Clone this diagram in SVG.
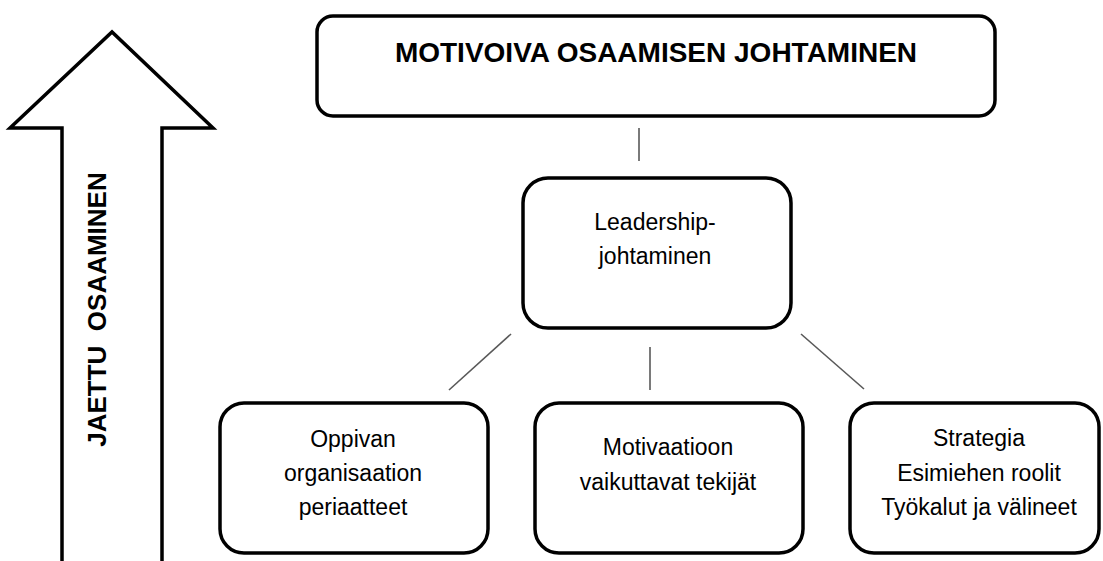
<svg xmlns="http://www.w3.org/2000/svg" width="1103" height="561" viewBox="0 0 1103 561">
<style>
.box{fill:#fff;stroke:#000;stroke-width:3.5}
.conn{stroke:#595959;stroke-width:1.6;fill:none}
.t{font-family:"Liberation Sans",Arial,sans-serif;font-size:23px;fill:#000;text-anchor:middle}
.tb{font-family:"Liberation Sans",Arial,sans-serif;font-weight:bold;fill:#000;text-anchor:middle}
</style>
<rect width="1103" height="561" fill="#fff"/>
<g id="arrow">
<path d="M62,565 L62,128 L10,128 L112,32 L213,128 L162,128 L162,565" fill="#fff" stroke="#000" stroke-width="3.5" stroke-linejoin="miter"/>
<text class="tb" font-size="26" transform="translate(106,309.5) rotate(-90)" xml:space="preserve">JAETTU  OSAAMINEN</text>
</g>
<g id="connectors">
<line class="conn" x1="639" y1="128" x2="639" y2="161"/>
<line class="conn" x1="511" y1="334" x2="449" y2="390"/>
<line class="conn" x1="650" y1="347" x2="650" y2="390"/>
<line class="conn" x1="801" y1="334" x2="864" y2="389"/>
</g>
<g id="top">
<rect class="box" x="317" y="16" width="678" height="100" rx="16"/>
<text class="tb" font-size="28" x="656" y="62">MOTIVOIVA OSAAMISEN JOHTAMINEN</text>
</g>
<g id="leadership">
<rect class="box" x="523" y="178" width="268" height="150" rx="25"/>
<text class="t" x="655" y="230">Leadership-</text>
<text class="t" x="655" y="264">johtaminen</text>
</g>
<g id="oppivan">
<rect class="box" x="220" y="403" width="268" height="150" rx="24"/>
<text class="t" x="353" y="447">Oppivan</text>
<text class="t" x="353" y="481">organisaation</text>
<text class="t" x="353" y="515">periaatteet</text>
</g>
<g id="motivaatio">
<rect class="box" x="535" y="403" width="268" height="150" rx="24"/>
<text class="t" x="668" y="455">Motivaatioon</text>
<text class="t" x="668" y="490">vaikuttavat tekijät</text>
</g>
<g id="strategia">
<rect class="box" x="850" y="403" width="249" height="150" rx="24"/>
<text class="t" x="979" y="446">Strategia</text>
<text class="t" x="979" y="481">Esimiehen roolit</text>
<text class="t" x="979" y="515">Työkalut ja välineet</text>
</g>
</svg>
